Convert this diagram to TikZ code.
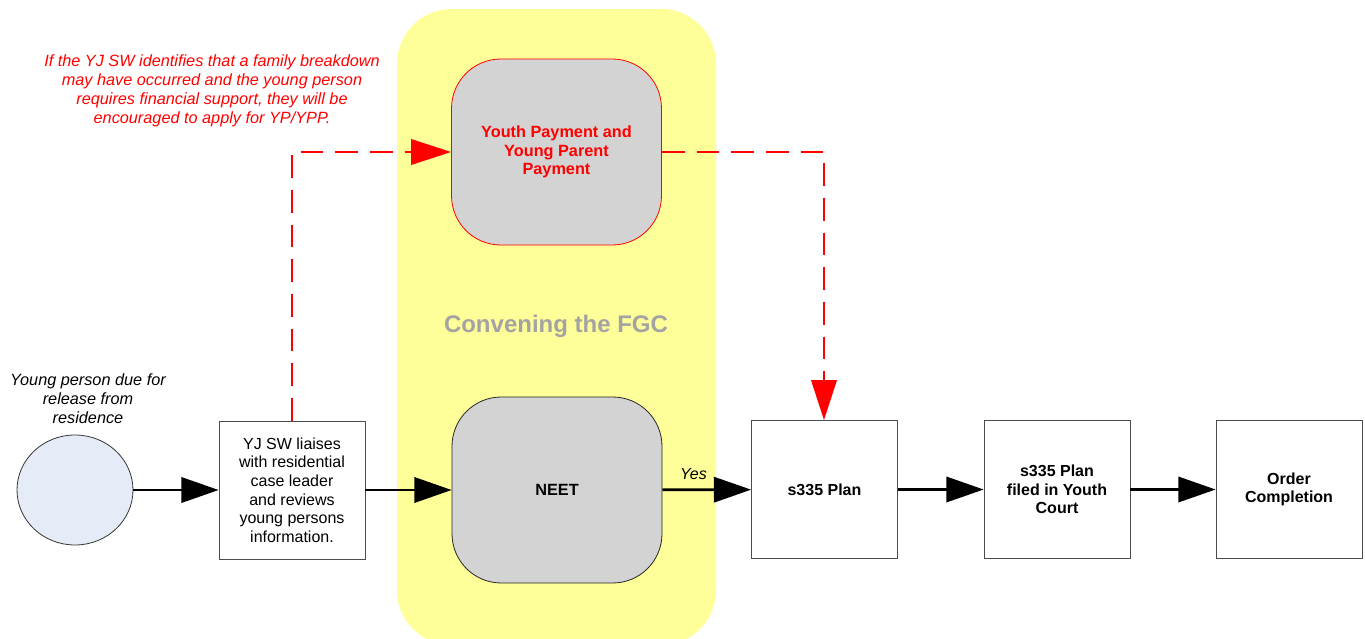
\documentclass[tikz,border=0pt]{standalone}
\usepackage{fontspec}
\setmainfont{Liberation Sans}
\usetikzlibrary{arrows.meta,shapes.geometric}
\definecolor{bandyellow}{HTML}{FFFF99}
\definecolor{boxgray}{HTML}{D3D3D3}
\definecolor{ovalblue}{HTML}{E6ECF7}
\definecolor{titlegray}{HTML}{A3A3A3}
\definecolor{lineRed}{HTML}{FF0000}
\tikzset{
  plainbox/.style={draw=black!70, fill=white, line width=0.6pt, minimum width=109.5pt, minimum height=103.5pt, align=center, font=\fontsize{12}{14}\selectfont, inner sep=2pt},
  boldbox/.style={plainbox, font=\fontsize{12}{14}\selectfont\bfseries},
  roundbox/.style={draw=black!85, fill=boxgray, line width=0.6pt, rounded corners=37pt, minimum width=157.5pt, minimum height=139.5pt, align=center, font=\fontsize{12.2}{14}\selectfont\bfseries},
  flow/.style={draw=black, line width=2pt, -{Triangle[length=28pt,width=19pt]}},
  redflow/.style={draw=lineRed, line width=2pt, dash pattern=on 17pt off 9pt, -{Triangle[length=30pt,width=19pt]}},
  note/.style={align=center, font=\fontsize{12.2}{14.2}\selectfont\itshape}
}
\begin{document}
\begin{tikzpicture}[x=0.75pt,y=-0.75pt]
\useasboundingbox (0,0) rectangle (1365,639);
\begin{scope}
\clip (0,0) rectangle (1365,639);
\fill[bandyellow, rounded corners=41pt] (397,9) rectangle (716,645);
\end{scope}
\node[font=\fontsize{18}{20}\selectfont\bfseries, text=titlegray] (title) at (556,326) {Convening the FGC};

\node[draw=black!80, fill=ovalblue, line width=0.6pt, ellipse, minimum width=87pt, minimum height=82.5pt, inner sep=0pt] (start) at (75,490) {};
\node[note] (startlbl) at (88,399) {Young person due for\\release from\\residence};

\node[plainbox] (yj) at (292,490) {YJ SW liaises\\with residential\\case leader\\and reviews\\young persons\\information.};
\node[roundbox] (neet) at (557,490) {NEET};
\node[roundbox, draw=lineRed, text=lineRed] (ypp) at (556.5,152) {Youth Payment and\\Young Parent\\Payment};
\node[boldbox] (plan) at (824.5,489.5) {s335 Plan};
\node[boldbox] (filed) at (1057,489.5) {s335 Plan\\filed in Youth\\Court};
\node[boldbox] (order) at (1289,489.5) {Order\\Completion};

\node[note, text=lineRed] (rednote) at (212,91) {If the YJ SW identifies that a family breakdown\\may have occurred and the young person\\requires financial support, they will be\\encouraged to apply for YP/YPP.};

\draw[flow] (start) -- (yj);
\draw[flow] (yj) -- (neet);
\draw[flow] (neet) -- node[above=3pt, pos=0.35, font=\fontsize{12}{14}\selectfont\itshape] {Yes} (plan);
\draw[flow] (plan) -- (filed);
\draw[flow] (filed) -- (order);

\coordinate (c1) at (292,152);
\coordinate (c2) at (824,152);
\draw[redflow] (yj.north) -- (c1) -- (ypp.west);
\draw[redflow] (ypp.east) -- (c2) -- (plan.north -| c2);
\end{tikzpicture}
\end{document}
